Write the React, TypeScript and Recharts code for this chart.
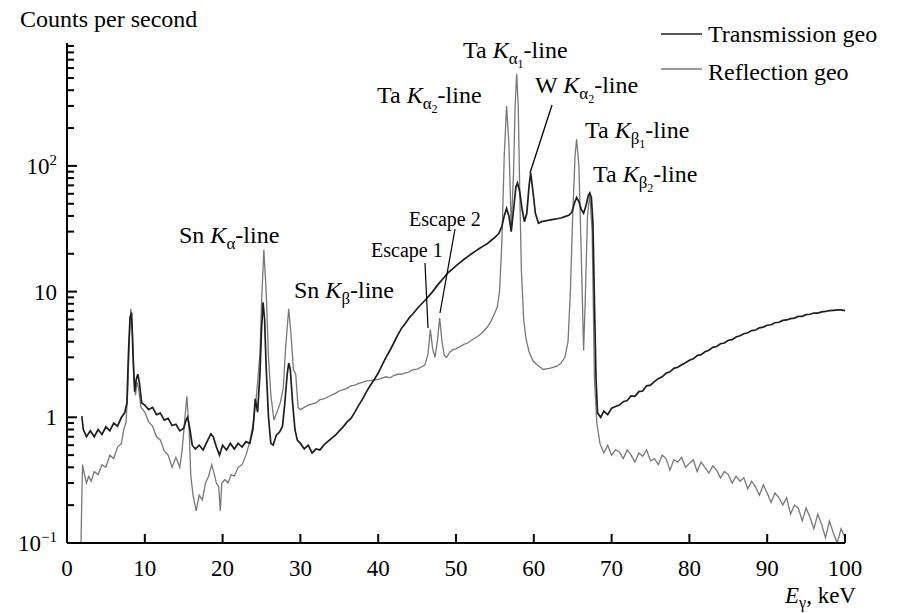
import { LineChart, Line, XAxis, YAxis } from "recharts";

// [keV, counts per second]
const transmission: [number, number][] = [
  [1.9, 1.02], [2.1, 0.8], [2.5, 0.7], [3, 0.78], [3.5, 0.7], [4, 0.8], [4.5, 0.73], [5, 0.84], [5.5, 0.78], [6, 0.9],
  [6.5, 0.85], [7, 1.0], [7.4, 1.08], [7.7, 1.3], [7.9, 3.2], [8.1, 6.2], [8.3, 6.8], [8.5, 3.0], [8.7, 1.6], [8.9, 2.0],
  [9.1, 2.2], [9.3, 1.9], [9.6, 1.3], [10, 1.25], [10.5, 1.15], [11, 1.2], [11.5, 1.05], [12, 1.08], [12.5, 0.95], [13, 0.98],
  [13.5, 0.86], [14, 0.88], [14.5, 0.78], [15, 0.82], [15.3, 0.95], [15.5, 1.0], [15.8, 0.8], [16.1, 0.6], [16.5, 0.56], [17, 0.6],
  [17.5, 0.55], [18, 0.64], [18.5, 0.74], [18.8, 0.7], [19.2, 0.58], [19.6, 0.5], [20, 0.6], [20.5, 0.55], [21, 0.62], [21.5, 0.56],
  [22, 0.62], [22.5, 0.58], [23, 0.64], [23.5, 0.62], [23.9, 0.8], [24.2, 1.4], [24.5, 1.1], [24.8, 2.2], [25.0, 5], [25.2, 8.2],
  [25.4, 6], [25.6, 2.5], [25.9, 1.0], [26.2, 0.62], [26.5, 0.6], [26.9, 0.72], [27.3, 0.76], [27.7, 0.85], [28.0, 1.3], [28.3, 2.2],
  [28.5, 2.7], [28.7, 2.4], [29.0, 1.3], [29.3, 0.8], [29.6, 0.66], [30, 0.62], [30.5, 0.56], [31, 0.6], [31.5, 0.52], [32, 0.56],
  [32.5, 0.55], [33, 0.6], [33.5, 0.64], [34, 0.68], [34.5, 0.72], [35, 0.78], [35.5, 0.84], [36, 0.92], [36.5, 0.98], [37, 1.1],
  [37.5, 1.25], [38, 1.4], [38.5, 1.6], [39, 1.8], [39.5, 2.0], [40, 2.25], [40.5, 2.6], [41, 3.0], [41.5, 3.4], [42, 3.9],
  [42.5, 4.5], [43, 5.1], [43.5, 5.6], [44, 6.2], [44.5, 6.7], [45, 7.3], [45.5, 7.9], [46, 8.5], [46.5, 9.2], [47, 10],
  [47.5, 11], [48, 12], [48.5, 13], [49, 14.2], [49.5, 15], [50, 16], [50.5, 17], [51, 18], [51.5, 19], [52, 20],
  [52.5, 21], [53, 22], [53.5, 23], [54, 24], [54.5, 25.5], [55, 27], [55.5, 29], [55.9, 33], [56.2, 40], [56.5, 46],
  [56.8, 40], [57.1, 30], [57.4, 45], [57.7, 68], [57.9, 73], [58.2, 62], [58.5, 45], [58.8, 36], [59.1, 42], [59.4, 70],
  [59.6, 88], [59.9, 62], [60.2, 42], [60.6, 35], [61, 36], [61.5, 36.5], [62, 37], [62.5, 37.5], [63, 38], [63.5, 38.5],
  [64, 39.5], [64.5, 40.5], [64.9, 43], [65.2, 50], [65.5, 56], [65.8, 52], [66.1, 45], [66.4, 42], [66.7, 48], [67.0, 58],
  [67.2, 61], [67.4, 56], [67.6, 35], [67.8, 8], [68.0, 2], [68.2, 1.08], [68.6, 1.0], [69, 1.12], [69.5, 1.05], [70, 1.18],
  [70.5, 1.22], [71, 1.25], [71.5, 1.33], [72, 1.36], [72.5, 1.48], [73, 1.47], [73.5, 1.6], [74, 1.62], [74.5, 1.78], [75, 1.8],
  [75.5, 1.92], [76, 2.03], [76.5, 2.1], [77, 2.24], [77.5, 2.3], [78, 2.45], [78.5, 2.5], [79, 2.62], [79.5, 2.72], [80, 2.84],
  [80.5, 2.92], [81, 3.1], [81.5, 3.15], [82, 3.32], [82.5, 3.42], [83, 3.6], [83.5, 3.66], [84, 3.85], [84.5, 3.9], [85, 4.1],
  [85.5, 4.15], [86, 4.35], [86.5, 4.45], [87, 4.62], [87.5, 4.7], [88, 4.9], [88.5, 4.95], [89, 5.15], [89.5, 5.22], [90, 5.4],
  [90.5, 5.45], [91, 5.65], [91.5, 5.7], [92, 5.9], [92.5, 5.95], [93, 6.1], [93.5, 6.15], [94, 6.35], [94.5, 6.35], [95, 6.55],
  [95.5, 6.6], [96, 6.75], [96.5, 6.75], [97, 6.9], [97.5, 6.95], [98, 7.05], [98.5, 7.1], [99, 7.15], [99.5, 7.15], [100, 7.05],
];

const reflection: [number, number][] = [
  [1.8, 0.1], [1.9, 0.22], [2.0, 0.42], [2.2, 0.36], [2.5, 0.3], [2.8, 0.34], [3.1, 0.31], [3.5, 0.37], [4, 0.35], [4.5, 0.42],
  [5, 0.4], [5.5, 0.5], [6, 0.47], [6.5, 0.58], [7, 0.62], [7.3, 0.8], [7.6, 0.92], [7.8, 1.6], [8.0, 4.2], [8.2, 7.3],
  [8.4, 5], [8.6, 2], [8.8, 1.5], [9.0, 1.9], [9.2, 1.7], [9.5, 1.2], [10, 1.1], [10.5, 0.92], [11, 0.85], [11.5, 0.7],
  [12, 0.66], [12.5, 0.54], [13, 0.5], [13.5, 0.4], [14, 0.48], [14.5, 0.4], [14.8, 0.55], [15.1, 0.9], [15.4, 1.47], [15.7, 0.8],
  [15.9, 0.35], [16.2, 0.24], [16.6, 0.18], [17, 0.24], [17.4, 0.22], [17.8, 0.3], [18.2, 0.34], [18.6, 0.42], [18.9, 0.36], [19.2, 0.3],
  [19.5, 0.28], [19.7, 0.18], [19.9, 0.3], [20.3, 0.32], [20.7, 0.3], [21.1, 0.35], [21.5, 0.34], [22, 0.4], [22.5, 0.42], [23, 0.5],
  [23.5, 0.64], [24, 0.95], [24.4, 1.6], [24.8, 3.2], [25.0, 8], [25.3, 21.6], [25.6, 10], [25.9, 3], [26.2, 1.5], [26.6, 0.95],
  [27.0, 1.1], [27.4, 1.3], [27.8, 1.7], [28.1, 3.6], [28.5, 7.3], [28.8, 4.5], [29.1, 2.4], [29.4, 2.2], [29.7, 1.2], [30, 1.15],
  [30.5, 1.2], [31, 1.25], [31.5, 1.28], [32, 1.3], [32.5, 1.38], [33, 1.4], [33.5, 1.45], [34, 1.5], [34.5, 1.55], [35, 1.62],
  [35.5, 1.66], [36, 1.7], [36.5, 1.78], [37, 1.8], [37.5, 1.86], [38, 1.9], [38.5, 1.95], [39, 1.96], [39.5, 1.98], [40, 2.0],
  [40.5, 2.05], [41, 2.1], [41.5, 2.06], [42, 2.15], [42.5, 2.2], [43, 2.2], [43.5, 2.26], [44, 2.3], [44.5, 2.4], [45, 2.42],
  [45.5, 2.5], [46, 2.6], [46.4, 3.2], [46.7, 5.0], [47.0, 3.5], [47.3, 3.0], [47.6, 4], [47.9, 6.2], [48.2, 4], [48.5, 3.1],
  [48.8, 3.0], [49.2, 3.3], [49.6, 3.45], [50, 3.5], [50.5, 3.65], [51, 3.8], [51.5, 3.9], [52, 4.1], [52.5, 4.3], [53, 4.5],
  [53.5, 4.8], [54, 5.2], [54.5, 5.8], [55, 6.8], [55.3, 7.5], [55.6, 10], [55.9, 25], [56.2, 120], [56.5, 300], [56.8, 150],
  [57.1, 32], [57.4, 90], [57.6, 300], [57.8, 540], [58.0, 300], [58.2, 60], [58.4, 15], [58.7, 6], [59.0, 4.2], [59.4, 3.3],
  [59.9, 2.8], [60.5, 2.6], [61.2, 2.4], [62, 2.45], [62.5, 2.5], [63, 2.55], [63.5, 2.7], [64, 3.0], [64.4, 4], [64.7, 10],
  [65.0, 40], [65.3, 120], [65.5, 163], [65.8, 100], [66.1, 20], [66.4, 3.4], [66.6, 8], [66.9, 40], [67.2, 60], [67.5, 30],
  [67.8, 2], [68.1, 0.9], [68.5, 0.62], [69, 0.52], [69.5, 0.6], [70, 0.5], [70.5, 0.55], [71, 0.53], [71.5, 0.47], [72, 0.55],
  [72.5, 0.5], [73, 0.44], [73.5, 0.52], [74, 0.49], [74.5, 0.55], [75, 0.45], [75.5, 0.47], [76, 0.42], [76.5, 0.5], [77, 0.47],
  [77.5, 0.38], [78, 0.46], [78.5, 0.44], [79, 0.48], [79.5, 0.4], [80, 0.43], [80.5, 0.46], [81, 0.37], [81.5, 0.44], [82, 0.4],
  [82.5, 0.36], [83, 0.41], [83.5, 0.38], [84, 0.33], [84.5, 0.37], [85, 0.35], [85.5, 0.3], [86, 0.34], [86.5, 0.31], [87, 0.33],
  [87.5, 0.27], [88, 0.31], [88.5, 0.28], [89, 0.24], [89.5, 0.29], [90, 0.25], [90.5, 0.21], [91, 0.25], [91.5, 0.23], [92, 0.2],
  [92.5, 0.23], [93, 0.17], [93.5, 0.2], [94, 0.19], [94.5, 0.15], [95, 0.19], [95.5, 0.16], [96, 0.13], [96.5, 0.17], [97, 0.14],
  [97.5, 0.11], [98, 0.15], [98.5, 0.12], [99, 0.1], [99.5, 0.13], [100, 0.11],
];

const xTicks = [0, 10, 20, 30, 40, 50, 60, 70, 80, 90, 100];
const yMajorTicks = [0.1, 1, 10, 100];
const yMinorSteps = [2, 3, 4, 5, 6, 7, 8, 9];
const yTicks = yMajorTicks.flatMap((d) => [d, ...yMinorSteps.map((m) => m * d)]);

const FONT = "Liberation Serif, Times New Roman, serif";

const transRows = transmission.map(([kev, cps]) => ({ kev, cps }));
const reflRows = reflection.map(([kev, cps]) => ({ kev, cps }));

function YTick(props: any) {
  const { x, y, payload } = props;
  const v = payload.value;
  const major = yMajorTicks.some((m) => Math.abs(m - v) < 1e-9);
  let label = null;
  if (major) {
    const base = v === 1 ? "1" : "10";
    const sup = v === 0.1 ? "\u22121" : v === 100 ? "2" : null;
    label = (
      <text x={x - 10} y={y + 8} textAnchor="end" fontSize={23} fontFamily={FONT} fill="#000">
        {base}
        {sup && (
          <tspan dy={-9} fontSize={15}>
            {sup}
          </tspan>
        )}
      </text>
    );
  }
  return (
    <g>
      <line x1={x} x2={x + (major ? 10 : 7)} y1={y} y2={y} stroke="#000" strokeWidth={2} />
      {label}
    </g>
  );
}

function XTick(props: any) {
  const { x, y, payload } = props;
  return (
    <g>
      {payload.value !== 0 && <line x1={x} x2={x} y1={y} y2={y - 9} stroke="#000" strokeWidth={2} />}
      <text x={x} y={y + 33} textAnchor="middle" fontSize={23} fontFamily={FONT} fill="#000">
        {payload.value}
      </text>
    </g>
  );
}

// line label like "Ta Kα1-line"
function PeakLabel({ x, y, pre, sub, subsub }: { x: number; y: number; pre: string; sub: string; subsub?: string }) {
  return (
    <text x={x} y={y} fontSize={24} fontFamily={FONT} fill="#000">
      {pre}
      <tspan fontStyle="italic">K</tspan>
      <tspan dy={6} fontSize={17}>{sub}</tspan>
      {subsub ? (
        <>
          <tspan dy={4} fontSize={12}>{subsub}</tspan>
          <tspan dy={-10} fontSize={24}>-line</tspan>
        </>
      ) : (
        <tspan dy={-6} fontSize={24}>-line</tspan>
      )}
    </text>
  );
}

export default function App() {
  return (
    <div style={{ position: "absolute", left: 0, top: 0, width: 901, height: 613, background: "#fff" }}>
      <LineChart width={901} height={613} margin={{ top: 43, right: 56, bottom: 40, left: 7 }}>
        <XAxis
          dataKey="kev"
          type="number"
          domain={[0, 100]}
          ticks={xTicks}
          interval={0}
          height={30}
          tickSize={0}
          tickMargin={0}
          tickLine={false}
          axisLine={{ stroke: "#000", strokeWidth: 2 }}
          tick={<XTick />}
          allowDataOverflow
        />
        <YAxis
          type="number"
          scale="log"
          domain={[0.1, 950]}
          ticks={yTicks}
          interval={0}
          width={60}
          tickSize={0}
          tickMargin={0}
          tickLine={false}
          axisLine={{ stroke: "#000", strokeWidth: 2 }}
          tick={<YTick />}
          allowDataOverflow
        />
        <Line
          data={reflRows}
          dataKey="cps"
          type="linear"
          stroke="#787878"
          strokeWidth={1.3}
          dot={false}
          isAnimationActive={false}
        />
        <Line
          data={transRows}
          dataKey="cps"
          type="linear"
          stroke="#1e1e1e"
          strokeWidth={1.7}
          dot={false}
          isAnimationActive={false}
        />
      </LineChart>

      <svg width={901} height={613} style={{ position: "absolute", left: 0, top: 0, pointerEvents: "none" }}>
        <text x={20} y={27} fontSize={24} fontFamily={FONT} fill="#000">Counts per second</text>
        <text x={785} y={603} fontSize={23} fontFamily={FONT} fill="#000">
          <tspan fontStyle="italic">E</tspan>
          <tspan dy={5} fontSize={16}>γ</tspan>
          <tspan dy={-5}>, keV</tspan>
        </text>

        {/* legend */}
        <line x1={661} x2={702} y1={34} y2={34} stroke="#1e1e1e" strokeWidth={1.6} />
        <text x={708} y={42} fontSize={24} fontFamily={FONT} fill="#000">Transmission geo</text>
        <line x1={661} x2={702} y1={69} y2={69} stroke="#787878" strokeWidth={1.6} />
        <text x={708} y={80} fontSize={24} fontFamily={FONT} fill="#000">Reflection geo</text>

        {/* peak annotations */}
        <PeakLabel x={463} y={58} pre="Ta " sub="α" subsub="1" />
        <PeakLabel x={377} y={103} pre="Ta " sub="α" subsub="2" />
        <PeakLabel x={535} y={93} pre="W " sub="α" subsub="2" />
        <PeakLabel x={585} y={138} pre="Ta " sub="β" subsub="1" />
        <PeakLabel x={593} y={182} pre="Ta " sub="β" subsub="2" />
        <PeakLabel x={179} y={243} pre="Sn " sub="α" />
        <PeakLabel x={294} y={298} pre="Sn " sub="β" />
        <line x1={552} y1={105} x2={530} y2={173} stroke="#000" strokeWidth={1.3} />

        <text x={409} y={226} fontSize={20} fontFamily={FONT} fill="#000">Escape 2</text>
        <text x={371} y={257} fontSize={20} fontFamily={FONT} fill="#000">Escape 1</text>
        <line x1={455} y1={229} x2={440} y2={313} stroke="#000" strokeWidth={1.2} />
        <line x1={425} y1={263} x2={428} y2={328} stroke="#000" strokeWidth={1.2} />
      </svg>
    </div>
  );
}
